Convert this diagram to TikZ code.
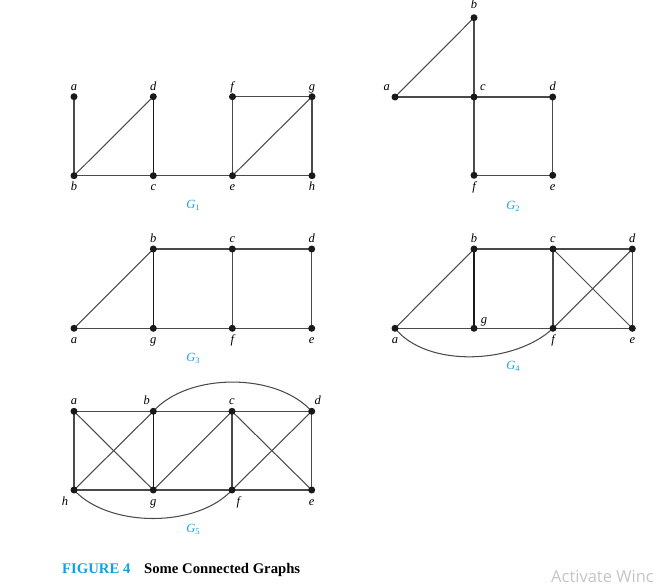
\documentclass[tikz,border=0pt]{standalone}
\usepackage{fontspec}
\setmainfont{Liberation Serif}
\newfontfamily\wmfont{Open Sans}
\usetikzlibrary{calc}
\pgfdeclarelayer{background}
\pgfsetlayers{background,main}
\definecolor{figcyan}{HTML}{10A2E3}
\definecolor{edgecol}{HTML}{4A4A4A}
\definecolor{wmgray}{HTML}{C4C4C4}
\newcommand{\gname}[1]{\textit{G}\raisebox{-2.2pt}{\fontsize{8.5}{9}\selectfont #1}}
\tikzset{
  dot/.style={circle,fill=black!90,inner sep=0pt,minimum size=7pt},
  edge/.style={draw=edgecol,line width=1.05pt},
  edgedark/.style={draw=black!90,line width=1.35pt},
  lbl/.style={font=\fontsize{12.5}{14}\selectfont\itshape,inner sep=0pt,anchor=base},
  glabel/.style={font=\fontsize{12.5}{14}\selectfont,text=figcyan,inner sep=0pt,anchor=base},
}
\begin{document}
\begin{tikzpicture}[x=1pt,y=-1pt]
\useasboundingbox (0,0) rectangle (661,586);
% ---------- G1 ----------
\node[dot] (g1a) at (74,96.7) {};
\node[dot] (g1d) at (153.3,96.7) {};
\node[dot] (g1f) at (232.5,96.7) {};
\node[dot] (g1g) at (312,96.7) {};
\node[dot] (g1b) at (74,175.7) {};
\node[dot] (g1c) at (153.3,175.7) {};
\node[dot] (g1e) at (232.5,175.7) {};
\node[dot] (g1h) at (312,175.7) {};
\begin{pgfonlayer}{background}
\draw[edge] (g1a.center) -- (g1b.center);
\draw[edge] (g1b.center) -- (g1d.center);
\draw[edgedark] (g1d.center) -- (g1c.center);
\draw[edge] (g1b.center) -- (g1c.center);
\draw[edge] (g1c.center) -- (g1e.center);
\draw[edge] (g1e.center) -- (g1f.center);
\draw[edge] (g1f.center) -- (g1g.center);
\draw[edge] (g1e.center) -- (g1g.center);
\draw[edge] (g1g.center) -- (g1h.center);
\draw[edge] (g1e.center) -- (g1h.center);
\end{pgfonlayer}
\node[lbl] (l1a) at (74,90) {a};
\node[lbl] (l1d) at (153.3,90) {d};
\node[lbl] (l1f) at (232,90) {f};
\node[lbl] (l1g) at (312,90) {g};
\node[lbl] (l1b) at (74,190.7) {b};
\node[lbl] (l1c) at (153.3,190.7) {c};
\node[lbl] (l1e) at (232.5,190.7) {e};
\node[lbl] (l1h) at (312,190.7) {h};
\node[glabel] (G1) at (193,208.3) {\gname{1}};
% ---------- G2 ----------
\node[dot] (g2b) at (474,17.7) {};
\node[dot] (g2a) at (395,97) {};
\node[dot] (g2c) at (474,97) {};
\node[dot] (g2d) at (552.7,97) {};
\node[dot] (g2f) at (474,175.3) {};
\node[dot] (g2e) at (552.7,175.3) {};
\begin{pgfonlayer}{background}
\draw[edge] (g2a.center) -- (g2b.center);
\draw[edge] (g2b.center) -- (g2c.center);
\draw[edge] (g2a.center) -- (g2c.center);
\draw[edge] (g2c.center) -- (g2d.center);
\draw[edge] (g2d.center) -- (g2e.center);
\draw[edge] (g2f.center) -- (g2e.center);
\draw[edge] (g2c.center) -- (g2f.center);
\end{pgfonlayer}
\node[lbl] (l2b) at (474,8.3) {b};
\node[lbl] (l2a) at (386.7,90.7) {a};
\node[lbl] (l2c) at (483,90.7) {c};
\node[lbl] (l2d) at (552.7,90.7) {d};
\node[lbl] (l2f) at (474,190.2) {f};
\node[lbl] (l2e) at (552.7,190.2) {e};
\node[glabel] (G2) at (513,209.5) {\gname{2}};
% ---------- G3 ----------
\node[dot] (g3b) at (153.3,249) {};
\node[dot] (g3c) at (232.3,249) {};
\node[dot] (g3d) at (311.7,249) {};
\node[dot] (g3a) at (74,328.3) {};
\node[dot] (g3g) at (153.3,328.3) {};
\node[dot] (g3f) at (232.3,328.3) {};
\node[dot] (g3e) at (311.7,328.3) {};
\begin{pgfonlayer}{background}
\draw[edge] (g3a.center) -- (g3b.center);
\draw[edge] (g3b.center) -- (g3c.center);
\draw[edge] (g3c.center) -- (g3d.center);
\draw[edge] (g3a.center) -- (g3g.center);
\draw[edge] (g3g.center) -- (g3f.center);
\draw[edge] (g3f.center) -- (g3e.center);
\draw[edgedark] (g3b.center) -- (g3g.center);
\draw[edge] (g3c.center) -- (g3f.center);
\draw[edge] (g3d.center) -- (g3e.center);
\end{pgfonlayer}
\node[lbl] (l3b) at (153.3,242.3) {b};
\node[lbl] (l3c) at (232.3,242.3) {c};
\node[lbl] (l3d) at (311.7,242.3) {d};
\node[lbl] (l3a) at (74,343.3) {a};
\node[lbl] (l3g) at (153.3,343.3) {g};
\node[lbl] (l3f) at (232.3,343.3) {f};
\node[lbl] (l3e) at (311.7,343.3) {e};
\node[glabel] (G3) at (193,361) {\gname{3}};
% ---------- G4 ----------
\node[dot] (g4b) at (474,249) {};
\node[dot] (g4c) at (553,249) {};
\node[dot] (g4d) at (632.3,249) {};
\node[dot] (g4a) at (395,328.3) {};
\node[dot] (g4g) at (474,328.3) {};
\node[dot] (g4f) at (553,328.3) {};
\node[dot] (g4e) at (632.3,328.3) {};
\begin{pgfonlayer}{background}
\draw[edge] (g4a.center) -- (g4b.center);
\draw[edge] (g4b.center) -- (g4c.center);
\draw[edge] (g4c.center) -- (g4d.center);
\draw[edge] (g4a.center) -- (g4g.center);
\draw[edge] (g4g.center) -- (g4f.center);
\draw[edge] (g4f.center) -- (g4e.center);
\draw[edgedark] (g4b.center) -- (g4g.center);
\draw[edge] (g4c.center) -- (g4f.center);
\draw[edge] (g4d.center) -- (g4e.center);
\draw[edge] (g4c.center) -- (g4e.center);
\draw[edge] (g4d.center) -- (g4f.center);
\draw[edge] (g4a.center) .. controls +(32,40) and +(-38,36) .. (g4f.center);
\end{pgfonlayer}
\node[lbl] (l4b) at (474,242.3) {b};
\node[lbl] (l4c) at (553,242.3) {c};
\node[lbl] (l4d) at (632.3,242.3) {d};
\node[lbl] (l4g) at (484,323) {g};
\node[lbl] (l4a) at (395,343.3) {a};
\node[lbl] (l4f) at (553,343.3) {f};
\node[lbl] (l4e) at (632.3,343.3) {e};
\node[glabel] (G4) at (513,369.3) {\gname{4}};
% ---------- G5 ----------
\node[dot] (g5a) at (74,411.3) {};
\node[dot] (g5b) at (153.3,411.3) {};
\node[dot] (g5c) at (232,411.3) {};
\node[dot] (g5d) at (311.7,411.3) {};
\node[dot] (g5h) at (74,490) {};
\node[dot] (g5g) at (153.3,490) {};
\node[dot] (g5f) at (232,490) {};
\node[dot] (g5e) at (311.7,490) {};
\begin{pgfonlayer}{background}
\draw[edge] (g5a.center) -- (g5b.center);
\draw[edge] (g5b.center) -- (g5c.center);
\draw[edge] (g5c.center) -- (g5d.center);
\draw[edge] (g5h.center) -- (g5g.center);
\draw[edge] (g5g.center) -- (g5f.center);
\draw[edge] (g5f.center) -- (g5e.center);
\draw[edge] (g5a.center) -- (g5h.center);
\draw[edgedark] (g5b.center) -- (g5g.center);
\draw[edge] (g5c.center) -- (g5f.center);
\draw[edge] (g5d.center) -- (g5e.center);
\draw[edge] (g5a.center) -- (g5g.center);
\draw[edge] (g5b.center) -- (g5h.center);
\draw[edge] (g5c.center) -- (g5g.center);
\draw[edge] (g5c.center) -- (g5e.center);
\draw[edge] (g5d.center) -- (g5f.center);
\draw[edge] (g5b.center) .. controls +(35,-39) and +(-35,-39) .. (g5d.center);
\draw[edge] (g5h.center) .. controls +(35,38) and +(-35,38) .. (g5f.center);
\end{pgfonlayer}
\node[lbl] (l5a) at (74,404.6) {a};
\node[lbl] (l5b) at (146.7,404.6) {b};
\node[lbl] (l5c) at (232,404.6) {c};
\node[lbl] (l5d) at (317.7,404.6) {d};
\node[lbl] (l5h) at (65,505) {h};
\node[lbl] (l5g) at (153.3,505) {g};
\node[lbl] (l5f) at (238.3,505) {f};
\node[lbl] (l5e) at (311.7,505) {e};
\node[glabel] (G5) at (193,532.7) {\gname{5}};
% ---------- caption ----------
\node[anchor=base west,inner sep=0pt,text=figcyan,font=\fontsize{14.7}{16}\selectfont\bfseries] (figno) at (62,573.3) {FIGURE 4};
\node[anchor=base west,inner sep=0pt,font=\fontsize{14.7}{16}\selectfont\bfseries] (figcap) at (144,573.3) {Some Connected Graphs};
\begin{scope}
\clip (0,0) rectangle (661,586);
\node[anchor=base west,inner sep=0pt,text=wmgray,font=\wmfont\fontsize{16.5}{18}\selectfont] (wm) at (551,582) {Activate Winc};
\end{scope}
\end{tikzpicture}
\end{document}
